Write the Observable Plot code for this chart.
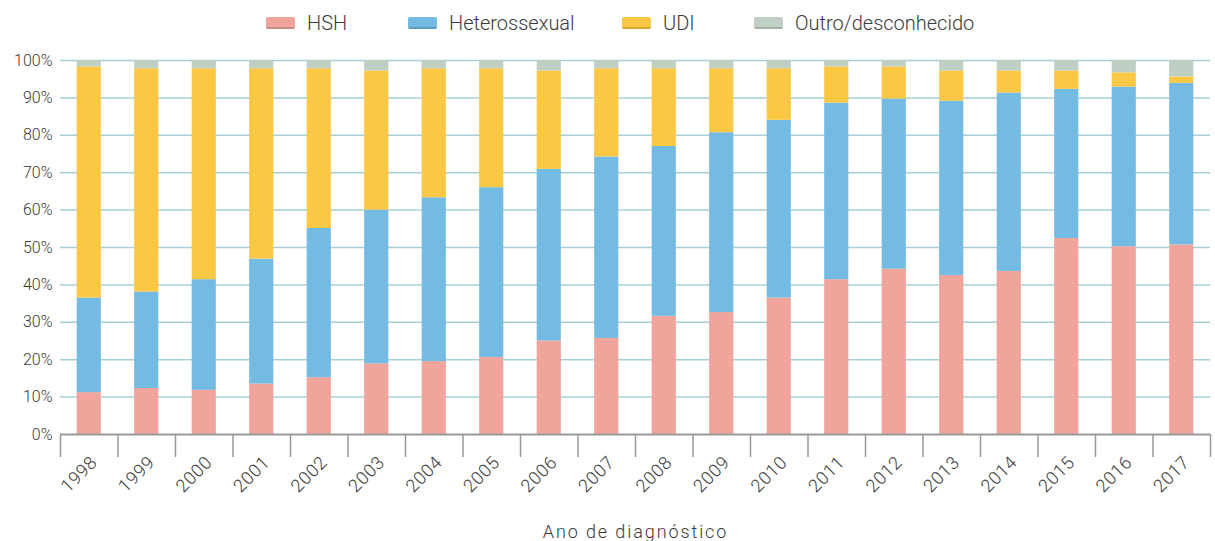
<!DOCTYPE html>
<html><head><meta charset="utf-8">
<script src="https://cdn.jsdelivr.net/npm/d3@7"></script>
<script src="https://cdn.jsdelivr.net/npm/@observablehq/plot@0.6"></script>
<style>
body{margin:0;background:#fff;font-family:Roboto, sans-serif;}
#legend{position:relative;height:45px;width:1215px;}
.sw{position:absolute;top:17px;width:29px;height:12px;border-radius:2px;box-sizing:border-box}
.lt{position:absolute;top:13px;line-height:20px;font-size:20px;color:#3a3a3a;font-weight:300;white-space:nowrap}
#chart svg{display:block}
</style></head><body>
<div id="legend"></div><div id="chart"></div>
<script>
const years = [1998,1999,2000,2001,2002,2003,2004,2005,2006,2007,2008,2009,2010,2011,2012,2013,2014,2015,2016,2017];
const categories = ["HSH","Heterossexual","UDI","Outro/desconhecido"];
const hsh   = [11.2,12.3,11.8,13.5,15.2,18.9,19.5,20.6,25.0,25.7,31.6,32.6,36.5,41.4,44.2,42.5,43.6,52.4,50.2,50.7];
const het   = [25.3,25.8,29.6,33.4,39.9,41.1,43.8,45.4,45.9,48.5,45.4,48.1,47.5,47.2,45.5,46.6,47.7,39.9,42.7,43.2];
const udi   = [61.8,59.7,56.4,50.9,42.7,37.2,34.5,31.8,26.3,23.6,20.8,17.1,13.8,9.7,8.6,8.1,5.9,4.9,3.8,1.7];
const outro = [1.7,2.2,2.2,2.2,2.2,2.8,2.2,2.2,2.8,2.2,2.2,2.2,2.2,1.7,1.7,2.8,2.8,2.8,3.3,4.4];
const colors = ["#f0a49b","#74bbe3","#fcc843","#bfcfc4"];
const borders = ["#c98a83","#5e9cc0","#d6a836","#a3b3a9"];
const yTicks = [0,10,20,30,40,50,60,70,80,90,100];
const xTitle = "Ano de diagnóstico";

// legend
const swatchX = [266,408,622,754];
const legend = document.getElementById("legend");
categories.forEach((c,i)=>{
  const sw = document.createElement("div");
  sw.className="sw"; sw.style.left = swatchX[i]+"px";
  sw.style.background=colors[i]; sw.style.borderBottom="2px solid "+borders[i];
  legend.appendChild(sw);
  const t = document.createElement("div");
  t.className="lt"; t.style.left = (swatchX[i]+41)+"px";
  t.textContent = c;
  legend.appendChild(t);
});

const series = [hsh,het,udi,outro];
const rows = years.flatMap((yr,i)=>categories.map((c,j)=>({year:String(yr), cat:c, value:series[j][i]})));
const yrs = years.map(String);

const plot = Plot.plot({
  width:1215, height:496, marginLeft:60, marginRight:5, marginTop:15, marginBottom:107,
  x:{type:"band", domain:yrs, paddingInner:0.58, paddingOuter:0.29, round:false, label:null},
  y:{domain:[0,100], label:null},
  color:{domain:categories, range:colors},
  style:{fontFamily:"Roboto, sans-serif", fontSize:"16px", color:"#3a3a3a", fontWeight:300},
  marks:[
    Plot.gridY(yTicks.slice(1), {stroke:"#a8d0db", strokeOpacity:1, strokeWidth:1.5}),
    Plot.barY(rows, {x:"year", y:"value", fill:"cat", order:categories}),
    Plot.ruleY([0], {stroke:"#999", strokeWidth:2}),
    Plot.axisY(yTicks, {tickSize:0, tickPadding:8, tickFormat:d=>d+"%", fontSize:16, label:null}),
    Plot.axisX(yrs, {tickSize:23, text:null, dx:-28.75, stroke:"#999", strokeWidth:1.5, label:null}),
    Plot.axisX([yrs[yrs.length-1]], {tickSize:23, text:null, dx:28.75, stroke:"#999", strokeWidth:1.5, label:null}),
    Plot.text(yrs, {x:d=>d, frameAnchor:"bottom", rotate:-45, textAnchor:"end", lineAnchor:"bottom", dx:9, dy:29, fontSize:18, fill:"#3a3a3a"}),
    Plot.text([xTitle], {frameAnchor:"bottom", lineAnchor:"bottom", dy:103, fontSize:18, fill:"#3a3a3a"})
  ]
});
// widen letters like the reference
d3.select(plot).selectAll("text").filter(function(){return this.textContent===xTitle;}).style("letter-spacing","1.9px");
d3.select(plot).selectAll("text").filter(function(){return yrs.includes(this.textContent);}).style("letter-spacing","0.6px");
document.getElementById("chart").appendChild(plot);
</script>
</body></html>
